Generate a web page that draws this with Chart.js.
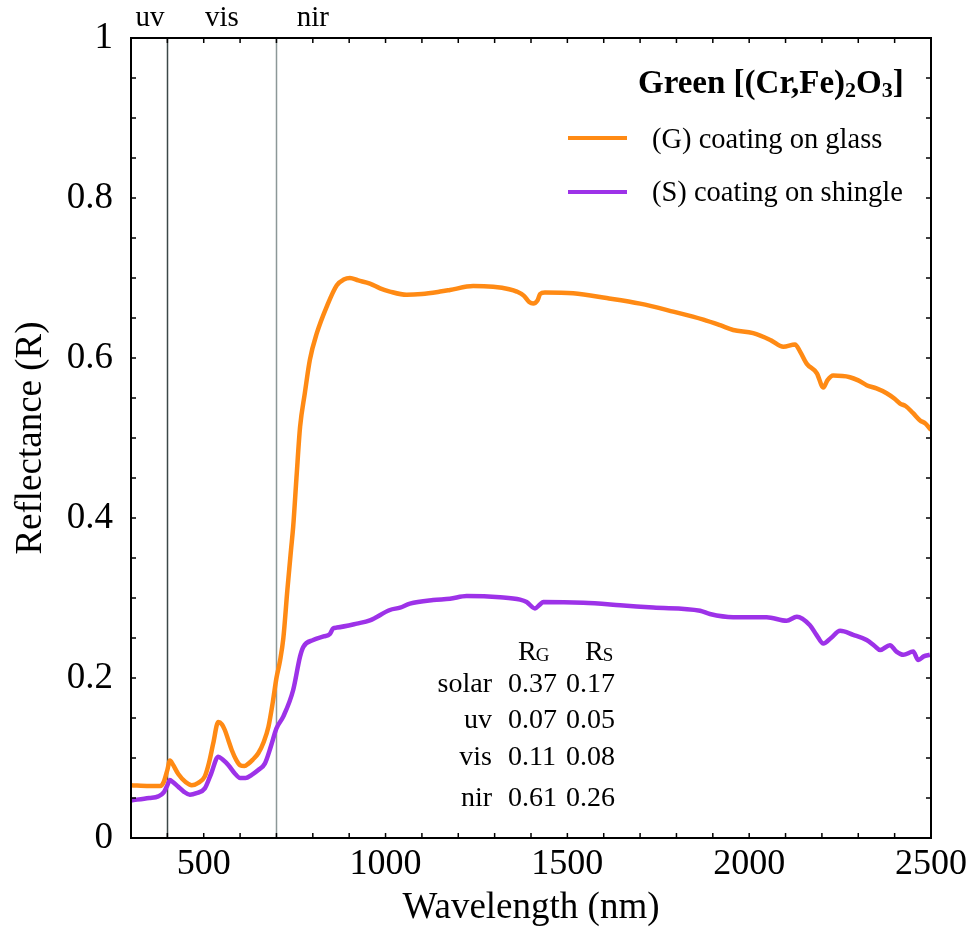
<!DOCTYPE html>
<html><head><meta charset="utf-8">
<script src="https://cdn.jsdelivr.net/npm/chart.js@4/dist/chart.umd.min.js"></script>
<style>html,body{margin:0;padding:0;background:#fff}#wrap{width:972px;height:944px}</style>
</head><body><div id="wrap"><canvas id="c" width="972" height="944"></canvas></div>
<script>
// ---- data ----
const wavelengthG = [300,350,380,390,400,407,415,430,450,467,485,503,515,526,540,550,558,568,577,590,600,612,623,635,650,665,678,690,700,710,719,730,740,746,755,765,778,792,811,838,866,885,902,925,957,985,1012,1058,1100,1150,1177,1241,1296,1340,1361,1380,1395,1406,1418,1425,1438,1516,1608,1700,1791,1874,1920,1956,2011,2060,2094,2126,2140,2158,2186,2204,2215,2231,2277,2300,2323,2350,2378,2400,2415,2430,2451,2470,2485,2500];
const reflectanceG = [0.066,0.065,0.065,0.070,0.085,0.097,0.092,0.080,0.070,0.066,0.069,0.077,0.095,0.118,0.145,0.142,0.135,0.122,0.110,0.097,0.091,0.090,0.093,0.098,0.106,0.120,0.139,0.170,0.200,0.222,0.250,0.310,0.360,0.389,0.450,0.514,0.556,0.598,0.631,0.664,0.691,0.698,0.700,0.697,0.693,0.687,0.683,0.679,0.680,0.683,0.685,0.690,0.689,0.686,0.683,0.678,0.670,0.668,0.672,0.680,0.682,0.681,0.675,0.668,0.658,0.648,0.641,0.635,0.631,0.622,0.614,0.617,0.608,0.593,0.581,0.563,0.572,0.578,0.576,0.572,0.566,0.562,0.556,0.549,0.543,0.540,0.531,0.522,0.518,0.510];
const wavelengthS = [300,350,375,390,400,407,415,430,445,462,480,503,520,540,552,568,585,600,615,632,650,668,685,700,719,746,765,774,801,830,847,856,866,921,957,1012,1040,1067,1131,1177,1223,1315,1370,1388,1411,1425,1434,1544,1645,1736,1865,1892,1956,2048,2103,2131,2167,2185,2204,2225,2250,2286,2323,2345,2360,2387,2405,2424,2451,2465,2480,2497];
const reflectanceS = [0.047,0.050,0.052,0.057,0.066,0.0725,0.070,0.064,0.058,0.054,0.056,0.062,0.080,0.1017,0.098,0.091,0.081,0.075,0.075,0.079,0.085,0.093,0.115,0.137,0.152,0.185,0.227,0.239,0.2475,0.252,0.255,0.262,0.263,0.268,0.272,0.285,0.288,0.293,0.2975,0.299,0.3025,0.301,0.298,0.295,0.287,0.292,0.295,0.294,0.291,0.288,0.284,0.280,0.276,0.276,0.2716,0.2766,0.266,0.254,0.243,0.250,0.259,0.254,0.2475,0.240,0.235,0.241,0.233,0.229,0.233,0.2225,0.227,0.229];
const seriesNames = ['(G) coating on glass','(S) coating on shingle'];
const legendTitle = ['Green [(Cr,Fe)', '2', 'O', '3', ']'];
const regionLines = [400, 700];
const regionLabels = ['uv','vis','nir'];
const regionLabelAt = [352, 550, 800];
const tableRows = ['solar','uv','vis','nir'];
const tableRG = ['0.37','0.07','0.11','0.61'];
const tableRS = ['0.17','0.05','0.08','0.26'];
const xTickLabels = [500,1000,1500,2000,2500];
const yTickLabels = [0,0.2,0.4,0.6,0.8,1];

const SERIF = '"Liberation Serif", "Times New Roman", serif';
const ORANGE = '#ff8a14';
const PURPLE = '#9d32e8';

const toPts = (xs, ys) => xs.map((x, i) => ({x, y: ys[i]}));

const overlay = {
  id: 'overlay',
  beforeDatasetsDraw(chart) {
    const {ctx, chartArea: a, scales: {x}} = chart;
    ctx.save();
    const cols = ['#3c4848', '#8c9898'];
    regionLines.forEach((v, i) => {
      const px = Math.round(x.getPixelForValue(v)) + 0.5;
      ctx.strokeStyle = cols[i];
      ctx.lineWidth = 1.5;
      ctx.beginPath(); ctx.moveTo(px, a.top); ctx.lineTo(px, a.bottom); ctx.stroke();
    });
    ctx.restore();
  },
  afterDraw(chart) {
    const {ctx, chartArea: a, scales: {x, y}} = chart;
    ctx.save();
    // frame
    ctx.strokeStyle = '#000'; ctx.lineWidth = 2;
    ctx.strokeRect(a.left, a.top, a.right - a.left, a.bottom - a.top);
    // inward ticks
    ctx.lineWidth = 1.5;
    const tl = 5;
    x.ticks.forEach(t => {
      const px = x.getPixelForValue(t.value);
      ctx.beginPath(); ctx.moveTo(px, a.bottom); ctx.lineTo(px, a.bottom - tl);
      ctx.moveTo(px, a.top); ctx.lineTo(px, a.top + tl); ctx.stroke();
    });
    y.ticks.forEach(t => {
      const py = y.getPixelForValue(t.value);
      ctx.beginPath(); ctx.moveTo(a.left, py); ctx.lineTo(a.left + tl, py);
      ctx.moveTo(a.right, py); ctx.lineTo(a.right - tl, py); ctx.stroke();
    });
    // region labels above
    ctx.fillStyle = '#000';
    ctx.font = '29px ' + SERIF;
    ctx.textAlign = 'center'; ctx.textBaseline = 'alphabetic';
    regionLabels.forEach((s, i) => ctx.fillText(s, x.getPixelForValue(regionLabelAt[i]), 26));
    // legend title with subscripts
    ctx.textAlign = 'left';
    let cx = 638;
    legendTitle.forEach((s, i) => {
      const sub = (i === 1 || i === 3);
      ctx.font = 'bold ' + (sub ? 22 : 33) + 'px ' + SERIF;
      ctx.fillText(s, cx, sub ? 97 : 93);
      cx += ctx.measureText(s).width;
    });
    // legend entries
    const ly = [138, 192], lb = [148, 201], lc = [ORANGE, PURPLE];
    seriesNames.forEach((s, i) => {
      ctx.strokeStyle = lc[i]; ctx.lineWidth = 4;
      ctx.beginPath(); ctx.moveTo(568, ly[i]); ctx.lineTo(627, ly[i]); ctx.stroke();
      ctx.font = '28.5px ' + SERIF;
      ctx.fillText(s, 652, lb[i]);
    });
    // table
    const drawSub = (main, sub, x0, base) => {
      ctx.font = '28px ' + SERIF; ctx.textAlign = 'left';
      ctx.fillText(main, x0, base);
      const w = ctx.measureText(main).width;
      ctx.font = '19px ' + SERIF;
      ctx.fillText(sub, x0 + w - 1, base + 1);
    };
    drawSub('R', 'G', 518, 660);
    drawSub('R', 'S', 585, 660);
    const rb = [692, 728, 765, 806];
    tableRows.forEach((r, i) => {
      ctx.font = '28px ' + SERIF;
      ctx.textAlign = 'right'; ctx.fillText(r, 492, rb[i]);
      ctx.textAlign = 'left';
      ctx.fillText(tableRG[i], 508, rb[i]);
      ctx.fillText(tableRS[i], 566, rb[i]);
    });
    ctx.restore();
  }
};

new Chart(document.getElementById('c'), {
  type: 'line',
  data: {
    datasets: [
      {label: seriesNames[0], data: toPts(wavelengthG, reflectanceG), borderColor: ORANGE, borderWidth: 4.5, pointRadius: 0, cubicInterpolationMode: 'monotone', fill: false},
      {label: seriesNames[1], data: toPts(wavelengthS, reflectanceS), borderColor: PURPLE, borderWidth: 4.5, pointRadius: 0, cubicInterpolationMode: 'monotone', fill: false}
    ]
  },
  options: {
    responsive: false, animation: false, devicePixelRatio: 1,
    layout: {padding: {left: 0, right: 41, top: 38, bottom: 0}},
    plugins: {legend: {display: false}, tooltip: {enabled: false}},
    scales: {
      x: {
        type: 'linear', min: 300, max: 2500,
        afterFit(s) { s.height = 106; s.paddingRight = 0; s.paddingLeft = 0; },
        grid: {display: false, drawTicks: false}, border: {display: false},
        ticks: {stepSize: 100, autoSkip: false, maxRotation: 0, padding: 5, color: '#000',
          font: {family: SERIF, size: 36},
          callback: v => xTickLabels.includes(Math.round(v)) ? String(Math.round(v)) : ''},
        title: {display: true, text: 'Wavelength (nm)', color: '#000', font: {family: SERIF, size: 37}, padding: {top: 0, bottom: 14}}
      },
      y: {
        min: 0, max: 1,
        afterFit(s) { s.width = 131; s.paddingTop = 0; s.paddingBottom = 0; },
        grid: {display: false, drawTicks: false}, border: {display: false},
        ticks: {stepSize: 0.05, autoSkip: false, padding: 18, color: '#000',
          font: {family: SERIF, size: 37},
          callback: v => { const r = Math.round(v * 100) / 100; return yTickLabels.includes(r) ? String(r) : ''; }},
        title: {display: true, text: 'Reflectance (R)', color: '#000', font: {family: SERIF, size: 37}, padding: {top: 9, bottom: 0}}
      }
    }
  },
  plugins: [overlay]
});
</script></body></html>
